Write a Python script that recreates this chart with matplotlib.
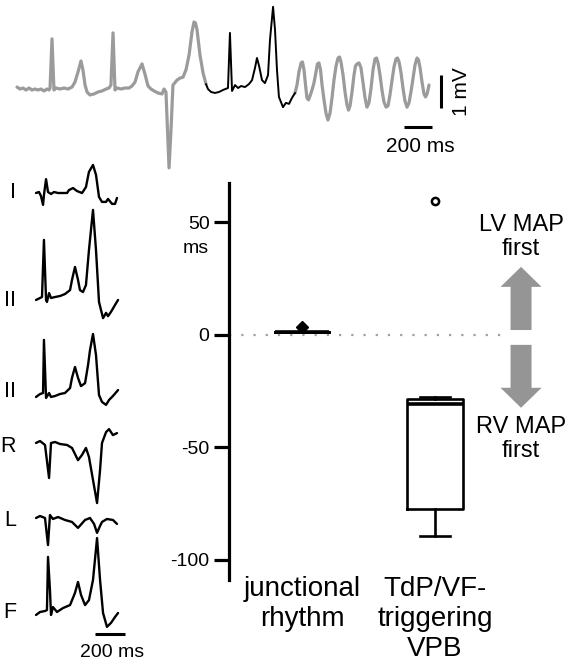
import matplotlib
matplotlib.use('Agg')
import matplotlib.pyplot as plt
from matplotlib.patches import FancyArrow
from matplotlib.transforms import blended_transform_factory

plt.rcParams['font.family'] = ['Liberation Sans', 'DejaVu Sans']
plt.rcParams['axes.unicode_minus'] = False

W, H = 579, 665

# --- top ECG strip (ms, mV): gray / black (triggering beat) / gray ---
strip_a_t = [0, 21, 43, 64, 86, 107, 129, 150, 171, 193, 214, 229, 236, 250, 264, 279, 307, 336, 364, 393,
             414, 436, 457, 471, 486, 500, 521, 550, 579, 607, 636, 657, 671, 686, 700, 714, 743, 771, 800, 821,
             843, 864, 893, 914, 936, 957, 979, 1007, 1036, 1050, 1064, 1086, 1100, 1114, 1143, 1164, 1186, 1207,
             1229, 1250, 1264, 1275, 1286, 1307, 1329, 1350]
strip_a_v = [0.09, 0.03, 0.06, 0.00, 0.06, 0.00, 0.03, 0.00, 0.03, -0.03, 0.03, 0.00, 0.06, 1.55, 0.00, 0.06,
             0.03, 0.06, 0.03, 0.09, 0.24, 0.55, 0.88, 0.61, 0.15, -0.06, -0.15, -0.12, -0.06, -0.03, 0.03, 0.06,
             0.15, 1.73, 0.00, 0.06, 0.03, 0.06, 0.06, 0.12, 0.24, 0.55, 0.79, 0.48, 0.12, 0.03, -0.03, -0.09,
             -0.12, 0.03, -0.06, -2.36, -1.21, 0.15, 0.30, 0.36, 0.39, 0.61, 1.06, 1.76, 2.06, 2.03, 1.82, 1.06,
             0.52, 0.18]
strip_b_t = [1350, 1364, 1386, 1414, 1443, 1471, 1507, 1521, 1536, 1557, 1579, 1600, 1629, 1657, 1679, 1700,
             1714, 1729, 1750, 1771, 1793, 1807, 1829, 1843, 1857, 1871, 1900, 1921, 1943, 1964, 1986]
strip_b_v = [0.18, 0.03, -0.06, -0.09, -0.06, 0.00, 0.06, 1.73, -0.03, 0.15, 0.06, 0.12, 0.09, 0.18, 0.30, 0.67,
             0.97, 0.73, 0.30, 0.21, 0.45, 1.52, 2.52, 1.82, 0.61, -0.21, -0.52, -0.39, -0.42, -0.24, -0.09]
strip_c_t = [1986, 2000, 2014, 2029, 2039, 2050, 2061, 2071, 2082, 2093, 2107, 2121, 2136, 2146, 2157, 2168,
             2179, 2193, 2207, 2221, 2236, 2250, 2264, 2279, 2293, 2304, 2314, 2329, 2343, 2357, 2368, 2379,
             2393, 2407, 2418, 2429, 2443, 2457, 2471, 2486, 2500, 2514, 2529, 2543, 2557, 2568, 2579, 2593,
             2607, 2621, 2636, 2650, 2664, 2679, 2693, 2707, 2718, 2729, 2743, 2757, 2771, 2786, 2800, 2814,
             2829, 2843, 2857, 2868, 2879, 2893, 2907, 2918, 2929, 2943]
strip_c_v = [-0.09, 0.15, 0.55, 0.82, 0.85, 0.61, 0.15, -0.24, -0.30, -0.18, 0.00, 0.21, 0.55, 0.79, 0.82, 0.61,
             0.15, -0.30, -0.70, -0.91, -0.70, -0.24, 0.30, 0.73, 0.97, 1.00, 0.85, 0.45, -0.06, -0.45, -0.61,
             -0.48, -0.06, 0.45, 0.73, 0.79, 0.82, 0.67, 0.24, -0.24, -0.52, -0.39, 0.06, 0.61, 0.94, 0.97, 0.82,
             0.45, 0.00, -0.36, -0.52, -0.48, -0.15, 0.30, 0.70, 0.94, 0.97, 0.85, 0.52, 0.06, -0.33, -0.52,
             -0.39, -0.06, 0.36, 0.76, 0.97, 0.91, 0.67, 0.24, -0.12, -0.21, -0.12, 0.15]

# --- 12-lead snippets of the triggering beat (ms, mV); labels as cropped in the figure ---
lead_labels = ['I', 'II', 'II', 'R', 'L', 'F']
lead_I_t = [0, 20, 33, 47, 53, 67, 80, 100, 120, 147, 180, 207, 220, 247, 273, 307, 333, 353, 380, 400, 420, 440,
            467, 480, 507, 527, 540]
lead_I_v = [0, 0.03, -0.09, -0.36, -0.06, 0.42, 0.03, -0.03, 0.03, 0, 0, 0, 0.09, 0.15, 0.06, 0, 0.18, 0.64, 0.85,
            0.55, -0.12, -0.27, -0.27, -0.18, -0.33, -0.33, -0.15]
lead_II_t = [0, 27, 40, 53, 67, 73, 87, 100, 127, 160, 193, 227, 240, 260, 280, 293, 313, 333, 353, 380, 400, 420,
             447, 467, 480, 500, 527, 547]
lead_II_v = [-0.06, 0, 0.03, 1.76, -0.06, -0.12, 0.15, 0, 0.03, 0.06, 0.12, 0.24, 0.55, 0.94, 0.55, 0.24, 0.18,
             0.39, 1.45, 2.67, 1.45, -0.12, -0.61, -0.45, -0.55, -0.42, -0.21, -0.06]
lead_III_t = [0, 27, 47, 53, 67, 87, 100, 127, 160, 193, 227, 240, 260, 280, 300, 327, 347, 360, 380, 400, 420,
              440, 467, 487, 513, 547]
lead_III_v = [-0.06, 0.03, 0.06, 1.67, -0.09, 0.06, -0.06, -0.03, 0.03, 0.06, 0.21, 0.52, 0.85, 0.52, 0.27, 0.36,
              0.91, 1.36, 1.85, 1.21, 0, -0.21, -0.30, -0.15, -0.03, 0.15]
lead_aVR_t = [0, 27, 60, 87, 100, 127, 160, 207, 240, 280, 307, 333, 353, 380, 407, 427, 440, 467, 487, 513, 540]
lead_aVR_v = [0, 0.06, -0.06, -1.06, 0, 0.03, -0.03, -0.06, -0.15, -0.52, -0.36, -0.15, -0.42, -1.12, -1.82,
              -0.82, 0, 0.33, 0.42, 0.24, 0.30]
lead_aVL_t = [0, 27, 60, 80, 93, 113, 147, 193, 240, 280, 327, 360, 387, 407, 427, 440, 473, 513, 540]
lead_aVL_v = [0, 0.06, 0, -0.82, 0.09, -0.03, 0.03, -0.06, -0.12, -0.30, -0.06, 0, -0.18, -0.45, -0.24, -0.12,
              -0.03, -0.06, -0.18]
lead_aVF_t = [0, 27, 60, 73, 80, 93, 100, 113, 140, 180, 227, 260, 280, 300, 327, 353, 380, 407, 427, 447, 473,
              500, 527, 547]
lead_aVF_v = [-0.09, 0, 0.03, 0.06, 1.67, 0.67, -0.09, 0.15, 0, 0.12, 0.21, 0.58, 0.91, 0.52, 0.21, 0.36, 0.97,
              2.24, 0.97, -0.03, -0.45, -0.33, -0.15, -0.03]
lead_t = [lead_I_t, lead_II_t, lead_III_t, lead_aVR_t, lead_aVL_t, lead_aVF_t]
lead_v = [lead_I_v, lead_II_v, lead_III_v, lead_aVR_v, lead_aVL_v, lead_aVF_v]

# --- LV-RV MAP timing difference (ms) ---
categories = ['junctional\nrhythm', 'TdP/VF-\ntriggering\nVPB']
box_whislo = [1.0, -89.5]
box_q1 = [1.0, -77.6]
box_med = [1.0, -31.0]
box_q3 = [1.0, -28.4]
box_whishi = [1.0, -27.5]
outliers = [[3.5], [59.5]]
yticks = [-100, -50, 0, 50]

scale_ms = 200
scale_mv = 1

fig = plt.figure(figsize=(W / 100, H / 100), dpi=100)


def px_axes(left, top, right, bottom):
    return fig.add_axes([left / W, 1 - bottom / H, (right - left) / W, (bottom - top) / H])


def trace_axes(x0, y0, ms_px, mv_px, box):
    ax = px_axes(*box)
    l, t, r, b = box
    ax.set_xlim((l - x0) * ms_px, (r - x0) * ms_px)
    ax.set_ylim((y0 - b) * mv_px, (y0 - t) * mv_px)
    ax.axis('off')
    return ax


GRAY = '#9b9b9b'
line_kw = dict(solid_joinstyle='round', solid_capstyle='round')

# top strip
ax_top = trace_axes(17, 90, 200 / 28, 1 / 33, (0, 0, 579, 175))
ax_top.plot(strip_a_t, strip_a_v, color=GRAY, lw=2.3, **line_kw)
ax_top.plot(strip_c_t, strip_c_v, color=GRAY, lw=2.3, **line_kw)
ax_top.plot(strip_b_t, strip_b_v, color='black', lw=1.4, **line_kw)
ax_top.plot([2764, 2764 + scale_ms], [-1.12, -1.12], color='black', lw=2.2, solid_capstyle='butt')
ax_top.text(2880, -1.70, '200 ms', ha='center', va='center', fontsize=15)
ax_top.plot([3029, 3029], [0.45, 0.45 - scale_mv], color='black', lw=2.2, solid_capstyle='butt')
ax_top.text(3175, -0.06, '1 mV', ha='center', va='center', rotation=90, fontsize=15)

# lead snippets
lead_base_px = [193, 298, 395, 443, 518, 612]
lead_label_px = [192, 300, 392, 446, 521, 613]
for name, t, v, base, lab in zip(lead_labels, lead_t, lead_v, lead_base_px, lead_label_px):
    ax = trace_axes(36, base, 200 / 30, 1 / 33, (20, base - 100, 140, base + 100))
    ax.plot(t, v, color='black', lw=1.7, **line_kw)
    fig.text(16 / W, 1 - lab / H, name, ha='right', va='center', fontsize=15.5)
    last_ax = ax
last_ax.plot([393, 393 + scale_ms], [-0.67, -0.67], color='black', lw=2.2, solid_capstyle='butt')
last_ax.text(510, -1.24, '200 ms', ha='center', va='center', fontsize=14)

# box plot
ax_box = px_axes(229, 183, 510, 580)
stats = []
for i in range(len(categories)):
    stats.append(dict(whislo=box_whislo[i], q1=box_q1[i], med=box_med[i], q3=box_q3[i],
                      whishi=box_whishi[i], fliers=[]))
lp = dict(color='black', lw=1.9)
ax_box.bxp(stats, positions=[1, 2], widths=[0.40, 0.42], capwidths=[0.40, 0.22], showfliers=False,
           boxprops=lp, whiskerprops=lp, capprops=lp, medianprops=dict(color='black', lw=2.6),
           manage_ticks=False)
ax_box.plot([1] * len(outliers[0]), outliers[0], ls='none', marker='D', ms=6.5, color='black')
ax_box.plot([2] * len(outliers[1]), outliers[1], ls='none', marker='o', ms=5.2, mfc='white', mec='black', mew=1.8)
ax_box.axhline(0, color='#a0a0a0', lw=1.6, ls=(0, (1, 4.5)), zorder=0)

ax_box.set_xlim(0.451, 2.564)
ax_box.set_ylim(-109.1, 67.5)
for s in ['top', 'right', 'bottom']:
    ax_box.spines[s].set_visible(False)
ax_box.spines['left'].set_linewidth(2.3)
ax_box.set_yticks(yticks)
ax_box.tick_params(axis='y', length=10.5, width=2.3, pad=3.5, labelsize=14)
ax_box.set_xticks([1, 2])
ax_box.set_xticklabels(categories, fontsize=20, linespacing=1.2)
ax_box.tick_params(axis='x', length=0, pad=-3)
ax_box.patch.set_alpha(0)

tr = blended_transform_factory(ax_box.transAxes, ax_box.transData)
ax_box.text(-20 / 281, 38.2, 'ms', transform=tr, ha='right', va='center', fontsize=14)

ARROW = '#959595'
ax_box.add_patch(FancyArrow(2.647, 2.1, 0, 28.1, width=0.158, head_width=0.308, head_length=8.9,
                            length_includes_head=True, color=ARROW, lw=0, clip_on=False))
ax_box.add_patch(FancyArrow(2.647, -4.5, 0, -28.0, width=0.158, head_width=0.308, head_length=8.9,
                            length_includes_head=True, color=ARROW, lw=0, clip_on=False))
ax_box.text(2.647, 43.5, 'LV MAP\nfirst', ha='center', va='center', fontsize=17, linespacing=1.15, clip_on=False)
ax_box.text(2.647, -46.3, 'RV MAP\nfirst', ha='center', va='center', fontsize=17, linespacing=1.15, clip_on=False)

fig.savefig('out.png', dpi=100)
